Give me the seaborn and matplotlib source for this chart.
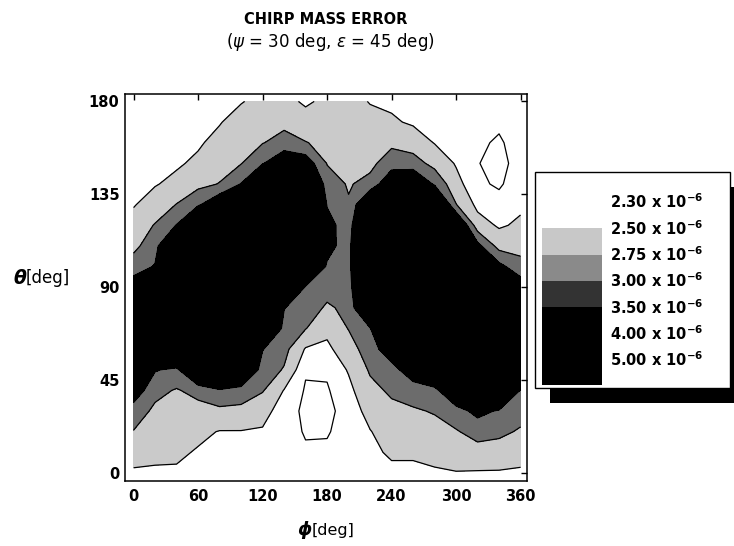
import numpy as np
import matplotlib
matplotlib.use("Agg")
import matplotlib.pyplot as plt
from matplotlib.patches import Rectangle
import seaborn as sns

# ---------------- data (chirp mass error, units of 1e-6) ----------------
phi_deg = [0, 20, 40, 60, 80, 100, 120, 140, 160, 180, 200, 220, 240, 260, 280, 300, 320, 340, 360]
theta_deg = [0, 10, 20, 30, 40, 50, 60, 70, 80, 90, 100, 110, 120, 130, 140, 150, 160, 170, 180]

# one list per phi column, values for theta = 0 .. 180
err_phi000 = [2.47, 2.59, 2.74, 2.88, 3.17, 3.64, 3.88, 3.88, 3.64, 3.17, 2.86, 2.69, 2.56, 2.49, 2.47, 2.45, 2.44, 2.42, 2.40]
err_phi020 = [2.47, 2.55, 2.63, 2.70, 2.82, 3.02, 3.65, 4.02, 4.02, 3.65, 3.02, 2.89, 2.77, 2.57, 2.49, 2.46, 2.44, 2.42, 2.40]
err_phi040 = [2.47, 2.54, 2.60, 2.66, 2.73, 2.94, 3.57, 3.90, 4.23, 4.24, 3.93, 3.62, 3.01, 2.76, 2.54, 2.48, 2.46, 2.44, 2.42]
err_phi060 = [2.45, 2.48, 2.55, 2.66, 2.83, 3.49, 3.78, 4.05, 4.33, 4.60, 4.27, 3.93, 3.60, 2.96, 2.68, 2.53, 2.48, 2.46, 2.44]
err_phi080 = [2.44, 2.47, 2.49, 2.69, 2.97, 3.58, 3.85, 4.12, 4.39, 4.66, 4.60, 4.19, 3.78, 3.25, 2.76, 2.65, 2.55, 2.49, 2.47]
err_phi100 = [2.43, 2.46, 2.49, 2.68, 2.90, 3.42, 3.76, 4.04, 4.33, 4.61, 4.90, 4.49, 4.08, 3.66, 3.01, 2.74, 2.66, 2.57, 2.49]
err_phi120 = [2.42, 2.45, 2.48, 2.57, 2.77, 2.89, 3.01, 3.62, 3.93, 4.24, 4.55, 4.54, 4.23, 3.91, 3.59, 2.98, 2.74, 2.65, 2.55]
err_phi140 = [2.42, 2.41, 2.40, 2.41, 2.49, 2.73, 2.83, 2.91, 3.01, 3.61, 3.89, 4.18, 4.34, 4.03, 3.72, 3.25, 2.84, 2.69, 2.58]
err_phi160 = [2.38, 2.33, 2.28, 2.25, 2.28, 2.32, 2.48, 2.76, 2.86, 2.97, 3.52, 3.75, 3.98, 3.96, 3.67, 3.17, 2.76, 2.61, 2.46]
err_phi180 = [2.40, 2.34, 2.28, 2.25, 2.28, 2.33, 2.45, 2.56, 2.72, 2.83, 2.96, 3.10, 3.12, 2.98, 2.86, 2.74, 2.69, 2.62, 2.56]
err_phi200 = [2.42, 2.41, 2.40, 2.38, 2.44, 2.52, 2.64, 2.76, 2.80, 2.84, 2.86, 2.86, 2.83, 2.77, 2.73, 2.69, 2.65, 2.61, 2.57]
err_phi220 = [2.44, 2.47, 2.49, 2.58, 2.68, 2.78, 2.88, 2.98, 3.57, 3.90, 4.23, 4.21, 3.84, 3.42, 2.82, 2.69, 2.63, 2.56, 2.49]
err_phi240 = [2.47, 2.52, 2.61, 2.69, 2.79, 2.90, 3.17, 3.70, 4.03, 4.37, 4.70, 4.38, 4.05, 3.73, 3.25, 2.88, 2.70, 2.53, 2.46]
err_phi260 = [2.47, 2.52, 2.62, 2.72, 2.87, 3.17, 3.70, 4.05, 4.39, 4.73, 4.74, 4.41, 4.09, 3.76, 3.33, 2.86, 2.63, 2.47, 2.42]
err_phi280 = [2.48, 2.55, 2.66, 2.77, 2.92, 3.42, 3.80, 4.13, 4.47, 4.80, 4.50, 4.20, 3.89, 3.59, 2.96, 2.67, 2.49, 2.45, 2.40]
err_phi300 = [2.49, 2.61, 2.73, 2.89, 3.33, 3.70, 3.96, 4.22, 4.47, 4.44, 4.11, 3.79, 3.42, 2.76, 2.58, 2.48, 2.45, 2.42, 2.38]
err_phi320 = [2.48, 2.66, 2.84, 3.08, 3.61, 3.84, 4.06, 4.29, 4.25, 3.95, 3.65, 3.08, 2.61, 2.44, 2.34, 2.31, 2.34, 2.37, 2.39]
err_phi340 = [2.48, 2.63, 2.81, 2.97, 3.54, 3.76, 3.98, 4.20, 3.92, 3.64, 3.08, 2.66, 2.47, 2.38, 2.27, 2.22, 2.27, 2.34, 2.37]
err_phi360 = [2.47, 2.58, 2.72, 2.85, 2.98, 3.55, 3.77, 4.00, 3.69, 3.17, 2.83, 2.67, 2.54, 2.46, 2.42, 2.40, 2.40, 2.40, 2.40]

levels_e6 = [2.30, 2.50, 2.75, 3.00, 3.50, 4.00, 5.00]
x_ticks = [0, 60, 120, 180, 240, 300, 360]
y_ticks = [0, 45, 90, 135, 180]

title_text = "CHIRP MASS ERROR"
subtitle_text = r"($\psi$ = 30 deg, $\epsilon$ = 45 deg)"

# ---------------- styling ----------------
sns.set_theme(style="white")
plt.rcParams["font.family"] = ["DejaVu Sans"]
plt.rcParams["mathtext.fontset"] = "dejavusans"
for key in ["text.color", "axes.labelcolor", "xtick.color", "ytick.color", "axes.edgecolor"]:
    plt.rcParams[key] = "black"

# legend swatch colour for each level band (level_i .. level_i+1), as printed in the key
key_colors = ["#ffffff", "#c8c8c8", "#8a8a8a", "#333333", "#000000", "#000000", "#000000"]
# in the map the bands print as: white (<2.50), light (2.50-2.75), mid (2.75-3.00), black (>=3.00)
map_colors = ["#ffffff", "#cacaca", "#6c6c6c", "#000000"]

W, H = 734, 546
fig = plt.figure(figsize=(W / 100, H / 100), dpi=100)

def fx(px):
    return px / W

def fy(py):
    return 1 - py / H

# main axes in pixel layout
ax_l, ax_r, ax_t, ax_b = 125, 527, 94, 481
ax = fig.add_axes([fx(ax_l), fy(ax_b), (ax_r - ax_l) / W, (ax_b - ax_t) / H])

columns = [err_phi000, err_phi020, err_phi040, err_phi060, err_phi080, err_phi100, err_phi120,
           err_phi140, err_phi160, err_phi180, err_phi200, err_phi220, err_phi240, err_phi260,
           err_phi280, err_phi300, err_phi320, err_phi340, err_phi360]
Z = np.array(columns).T  # rows: theta, cols: phi
PHI, THETA = np.meshgrid(phi_deg, theta_deg)

fill_levels = [0.0] + levels_e6[1:4] + [10.0]
ax.contourf(PHI, THETA, Z, levels=fill_levels, colors=map_colors, antialiased=False)
ax.contour(PHI, THETA, Z, levels=levels_e6[:4], colors="black", linewidths=0.9)

ax.set_xlim(-8, 366)
ax.set_ylim(-3.9, 183.6)
ax.set_xticks(x_ticks)
ax.set_yticks(y_ticks)
ax.set_xticklabels([str(v) for v in x_ticks], fontweight="bold", fontsize=10.5)
ax.set_yticklabels([str(v) for v in y_ticks], fontweight="bold", fontsize=10.5)
ax.tick_params(axis="both", direction="in", length=4, width=1, top=True, right=True, color="black")
ax.tick_params(axis="x", pad=6)
ax.tick_params(axis="y", pad=4)
for sp in ax.spines.values():
    sp.set_visible(True)
    sp.set_color("black")
    sp.set_linewidth(1.1)

# titles
fig.text(fx(326), fy(20), title_text, ha="center", va="center", fontsize=10.5, fontweight="bold")
fig.text(fx(330), fy(42), subtitle_text, ha="center", va="center", fontsize=12)

# axis labels (bold italic greek + plain [deg])
fig.text(fx(26), fy(278), "θ", ha="right", va="center", fontsize=13.5, fontweight="bold", fontstyle="italic")
fig.text(fx(26), fy(278), "[deg]", ha="left", va="center", fontsize=12)
fig.text(fx(312), fy(530), "ϕ", ha="right", va="center", fontsize=13, fontweight="bold", fontstyle="italic")
fig.text(fx(312), fy(530), "[deg]", ha="left", va="center", fontsize=11.5)

# ---------------- legend panel ----------------
lg = fig.add_axes([fx(530), fy(410), (W - 530) / W, (410 - 165) / H])
lg.set_xlim(530, W)
lg.set_ylim(410, 165)
lg.axis("off")
# drop shadow
lg.add_patch(Rectangle((550, 187), 200, 216, facecolor="black", edgecolor="none", zorder=1))
# box
lg.add_patch(Rectangle((535, 172), 195, 216, facecolor="white", edgecolor="black", linewidth=1.0, zorder=2))
label_y0, label_dy = 202, 26.3
sw_x, sw_w = 542, 60
n_lev = len(levels_e6)
for i in range(n_lev):
    top = label_y0 + i * label_dy
    bot = label_y0 + (i + 1) * label_dy if i < n_lev - 1 else 385
    lg.add_patch(Rectangle((sw_x, top), sw_w, bot - top, facecolor=key_colors[i],
                           edgecolor="none", zorder=3))
    lg.text(610, top, f"{levels_e6[i]:.2f} x " + r"$\mathbf{10^{-6}}$", ha="left", va="center",
            fontsize=10.5, fontweight="bold", zorder=4)

fig.savefig("out.png", dpi=100)
